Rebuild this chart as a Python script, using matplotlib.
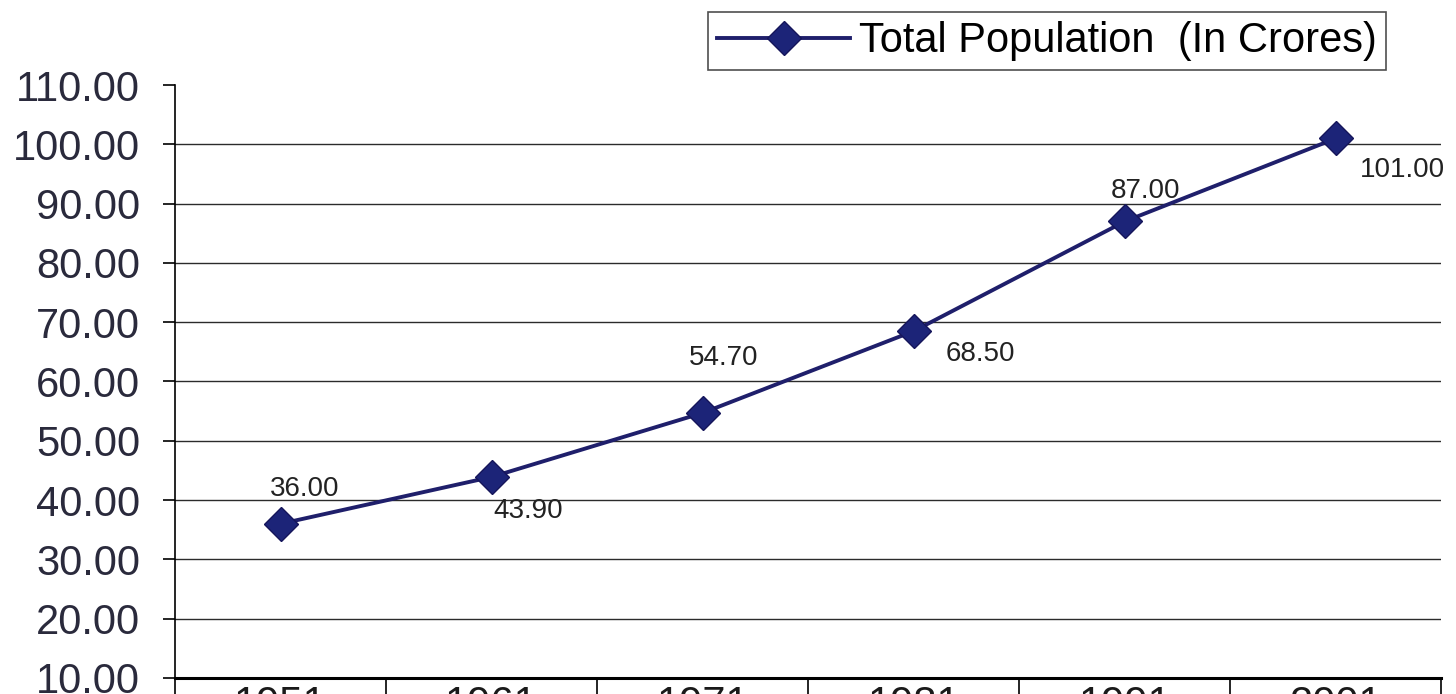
import matplotlib.pyplot as plt
import numpy as np

years = ['1951', '1961', '1971', '1981', '1991', '2001']
population = [36.00, 43.90, 54.70, 68.50, 87.00, 101.00]
label_text = ['36.00', '43.90', '54.70', '68.50', '87.00', '101.00']
y_ticks = [10, 20, 30, 40, 50, 60, 70, 80, 90, 100, 110]

plt.rcParams['font.family'] = ['Liberation Sans', 'DejaVu Sans']

fig = plt.figure(figsize=(14.56, 6.94), dpi=100)
ax = fig.add_axes([0.1202, 0.0231, 0.8698, 0.8544])

line_col = '#1f1f6b'
x = np.arange(len(years))
ax.plot(x, population, color=line_col, lw=2.8, marker='D', markersize=17,
        markerfacecolor='#1c2478', markeredgecolor='#15155a',
        label='Total Population  (In Crores)', zorder=3)

# data label offsets in pixels (dx right, dy up)
offsets = [(24, 35), (37, -34), (21, 55), (67, -23), (21, 30), (67, -32)]
for xi, yi, t, (dx, dy) in zip(x, population, label_text, offsets):
    ax.annotate(t, (xi, yi), xytext=(dx * 0.72, dy * 0.72), textcoords='offset points',
                fontsize=20, color='#222222', ha='center', va='center')

ax.set_ylim(10, 110)
ax.set_xlim(-0.5, len(years) - 0.5)
ax.set_yticks(y_ticks)
ax.set_yticklabels([f'{v:.2f}' for v in y_ticks], fontsize=30, color='#2a2a3c')
ax.tick_params(axis='y', length=9, width=1.2, direction='out', pad=16)

ax.yaxis.grid(True, color='#2b2b2b', lw=1.0)
ax.yaxis.get_gridlines()[-1].set_visible(False)
ax.set_axisbelow(True)

# category dividers as major ticks, year labels at centers
ax.set_xticks(np.arange(len(years) + 1) - 0.5)
ax.set_xticklabels([])
ax.tick_params(axis='x', which='major', length=40, width=1.2, direction='out')
ax.set_xticks(x, minor=True)
ax.set_xticklabels(years, minor=True, fontsize=30, color='#1a1a1a')
ax.tick_params(axis='x', which='minor', length=0, pad=5)

for s in ['top', 'right']:
    ax.spines[s].set_visible(False)
ax.spines['left'].set_linewidth(1.2)
ax.spines['bottom'].set_linewidth(2.2)

leg = ax.legend(loc='upper right', bbox_to_anchor=(0.956, 1.123), fontsize=30,
                frameon=True, fancybox=False, edgecolor='#222222',
                handlelength=3.2, borderpad=0.22, handletextpad=0.2,
                borderaxespad=0)
leg.get_frame().set_linewidth(1.2)

fig.savefig('out.png', dpi=100)
